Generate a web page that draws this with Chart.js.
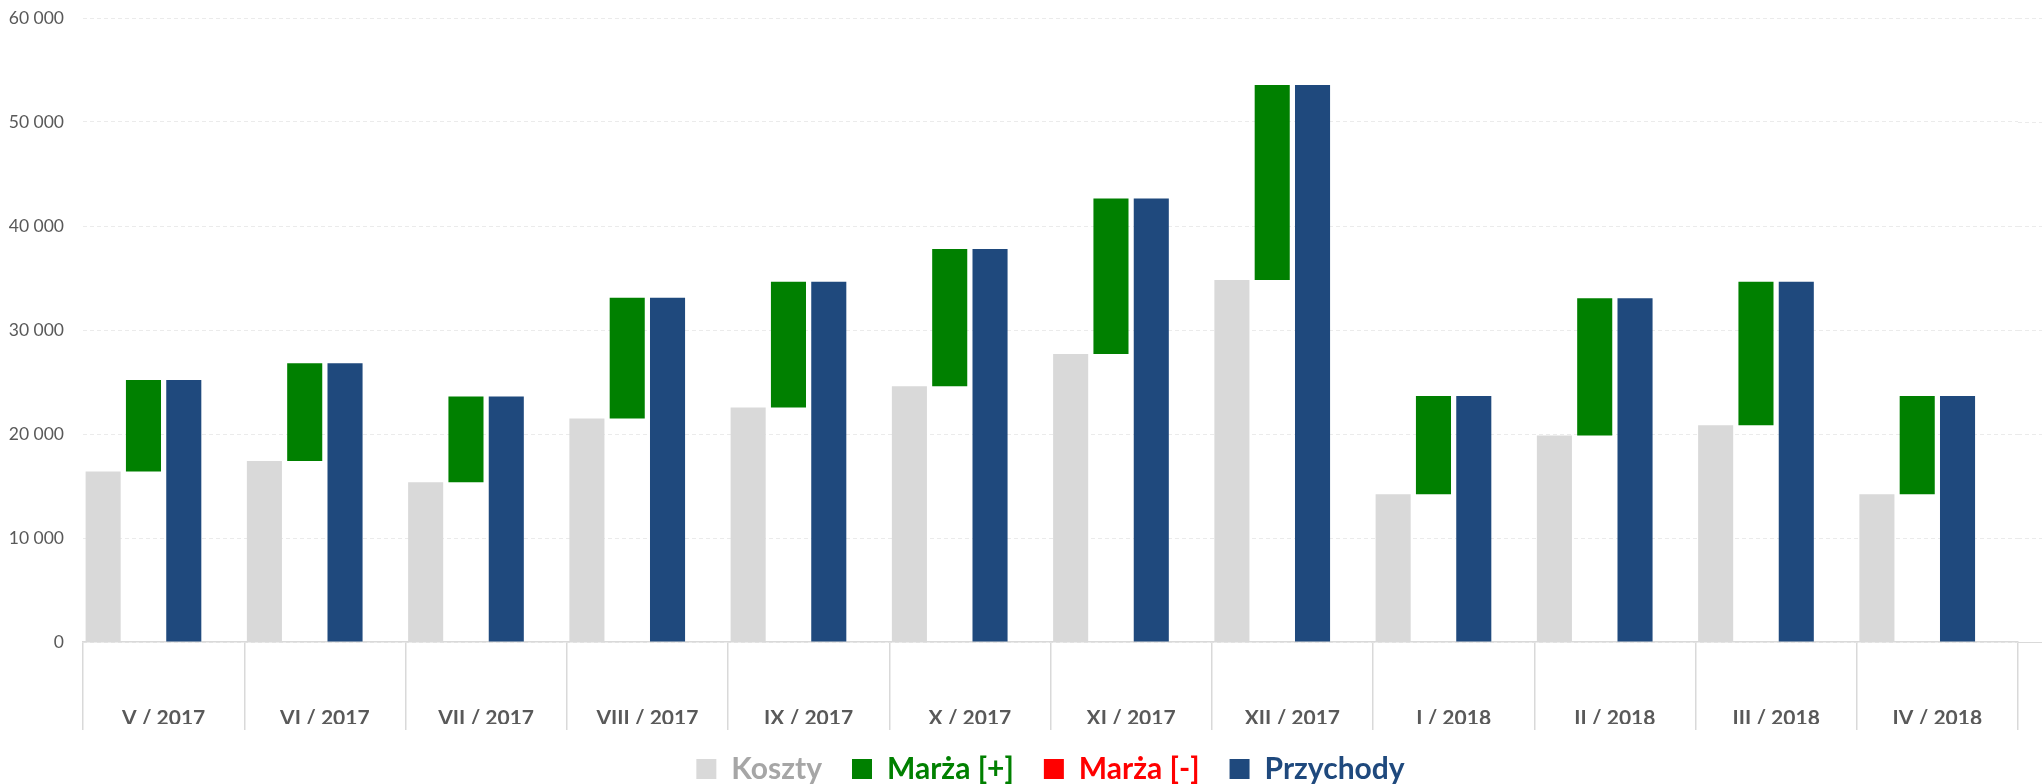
<!DOCTYPE html>
<html>
<head>
<meta charset="utf-8">
<script src="https://cdn.jsdelivr.net/npm/chart.js@4.4.1/dist/chart.umd.min.js"></script>
<style>
  html, body { margin: 0; padding: 0; background: #ffffff; }
  #wrap { width: 2042px; height: 784px; }
</style>
</head>
<body>
<div id="wrap"><canvas id="barGraph" width="2042" height="784"></canvas></div>
<script>
// Months and values
const months = ["V / 2017", "VI / 2017", "VII / 2017", "VIII / 2017", "IX / 2017", "X / 2017",
    "XI / 2017", "XII / 2017", "I / 2018", "II / 2018", "III / 2018", "IV / 2018"];
const koszty = [16400, 17400, 15350, 21500, 22550, 24600, 27700, 34800, 14200, 19850, 20850, 14200];
const przychody = [25200, 26800, 23600, 33100, 34650, 37800, 42650, 53550, 23650, 33050, 34650, 23650];
const yTicks = [0, 10000, 20000, 30000, 40000, 50000, 60000];

// margin bars float between cost and revenue
const marzaPlus = months.map((m, i) => przychody[i] >= koszty[i] ? [koszty[i], przychody[i]] : null);
const marzaMinus = months.map((m, i) => przychody[i] < koszty[i] ? [przychody[i], koszty[i]] : null);

// legend shows Marża [-] before Przychody
const legendRank = { "Koszty": 0, "Marża [+]": 1, "Marża [-]": 2, "Przychody": 3 };
const textColors = { "Koszty": "#a6a6a6", "Marża [+]": "#008000", "Marża [-]": "#ff0000", "Przychody": "#1f497d" };

function fmt(v) {
    return String(v).replace(/\B(?=(\d{3})+(?!\d))/g, " ");
}

// keep legend short and centred under the plot area
const legendFix = {
    id: "legendFix",
    beforeInit(chart) {
        const lg = chart.legend;
        const origFit = lg.fit;
        lg.fit = function () {
            origFit.call(this);
            this.height = 60;
        };
    },
    afterLayout(chart) {
        chart.legend.left = chart.chartArea.left;
        chart.legend.right = chart.chartArea.right;
    },
};

// gridlines in the original run on to the right edge
const gridTail = {
    id: "gridTail",
    beforeDatasetsDraw(chart) {
        const c = chart.ctx, y = chart.scales.y, a = chart.chartArea;
        c.save();
        c.lineWidth = 1;
        yTicks.forEach(v => {
            const py = Math.round(y.getPixelForValue(v)) + 0.5;
            c.strokeStyle = v === 0 ? "#d9d9d9" : "#ebebeb";
            c.setLineDash(v === 0 ? [] : [4, 3]);
            c.beginPath();
            c.moveTo(a.right, py);
            c.lineTo(chart.width, py);
            c.stroke();
        });
        c.restore();
    },
};

const ctx = document.getElementById("barGraph").getContext("2d");
new Chart(ctx, {
    type: "bar",
    data: {
        labels: months,
        datasets: [
            { label: "Koszty", data: koszty, backgroundColor: "#d9d9d9" },
            { label: "Marża [+]", data: marzaPlus, backgroundColor: "#008000" },
            { label: "Przychody", data: przychody, backgroundColor: "#1f497d" },
            { label: "Marża [-]", data: marzaMinus, backgroundColor: "#ff0000" },
        ],
    },
    options: {
        responsive: false,
        animation: false,
        categoryPercentage: 1.0,
        barPercentage: 0.87,
        layout: { padding: { top: 0, right: 24, left: 0, bottom: 0 } },
        plugins: {
            tooltip: { enabled: false },
            legend: {
                position: "bottom",
                labels: {
                    boxWidth: 20,
                    boxHeight: 20,
                    padding: 30,
                    font: { family: "Lato", size: 30, weight: "bold" },
                    sort: (a, b) => legendRank[a.text] - legendRank[b.text],
                    generateLabels: function (chart) {
                        const items = Chart.defaults.plugins.legend.labels.generateLabels(chart);
                        items.forEach(it => {
                            it.fontColor = textColors[it.text];
                            it.lineWidth = 0;
                        });
                        return items;
                    },
                },
            },
        },
        scales: {
            x: {
                offset: true,
                border: { display: true, color: "#d9d9d9", width: 1.5 },
                grid: {
                    offset: true,
                    drawOnChartArea: false,
                    drawTicks: true,
                    tickLength: 88,
                    color: "#d9d9d9",
                    lineWidth: 1.5,
                },
                ticks: {
                    padding: -24,
                    color: "#595959",
                    font: { family: "Lato", size: 21, weight: "bold" },
                    maxRotation: 0,
                },
                afterFit: s => { s.height = 82; },
            },
            y: {
                min: 0,
                max: 60000,
                afterBuildTicks: s => { s.ticks = yTicks.map(v => ({ value: v })); },
                border: { display: false, dash: [4, 3] },
                grid: { color: "#ebebeb", drawTicks: false, lineWidth: 1 },
                ticks: {
                    padding: 19,
                    color: "#595959",
                    font: { family: "Lato", size: 17.5 },
                    callback: v => fmt(v),
                },
                afterFit: s => {
                    s.width = 83;
                    s.paddingTop = 18;
                    s.paddingBottom = 0;
                },
            },
        },
    },
    plugins: [legendFix, gridTail],
});
</script>
</body>
</html>
